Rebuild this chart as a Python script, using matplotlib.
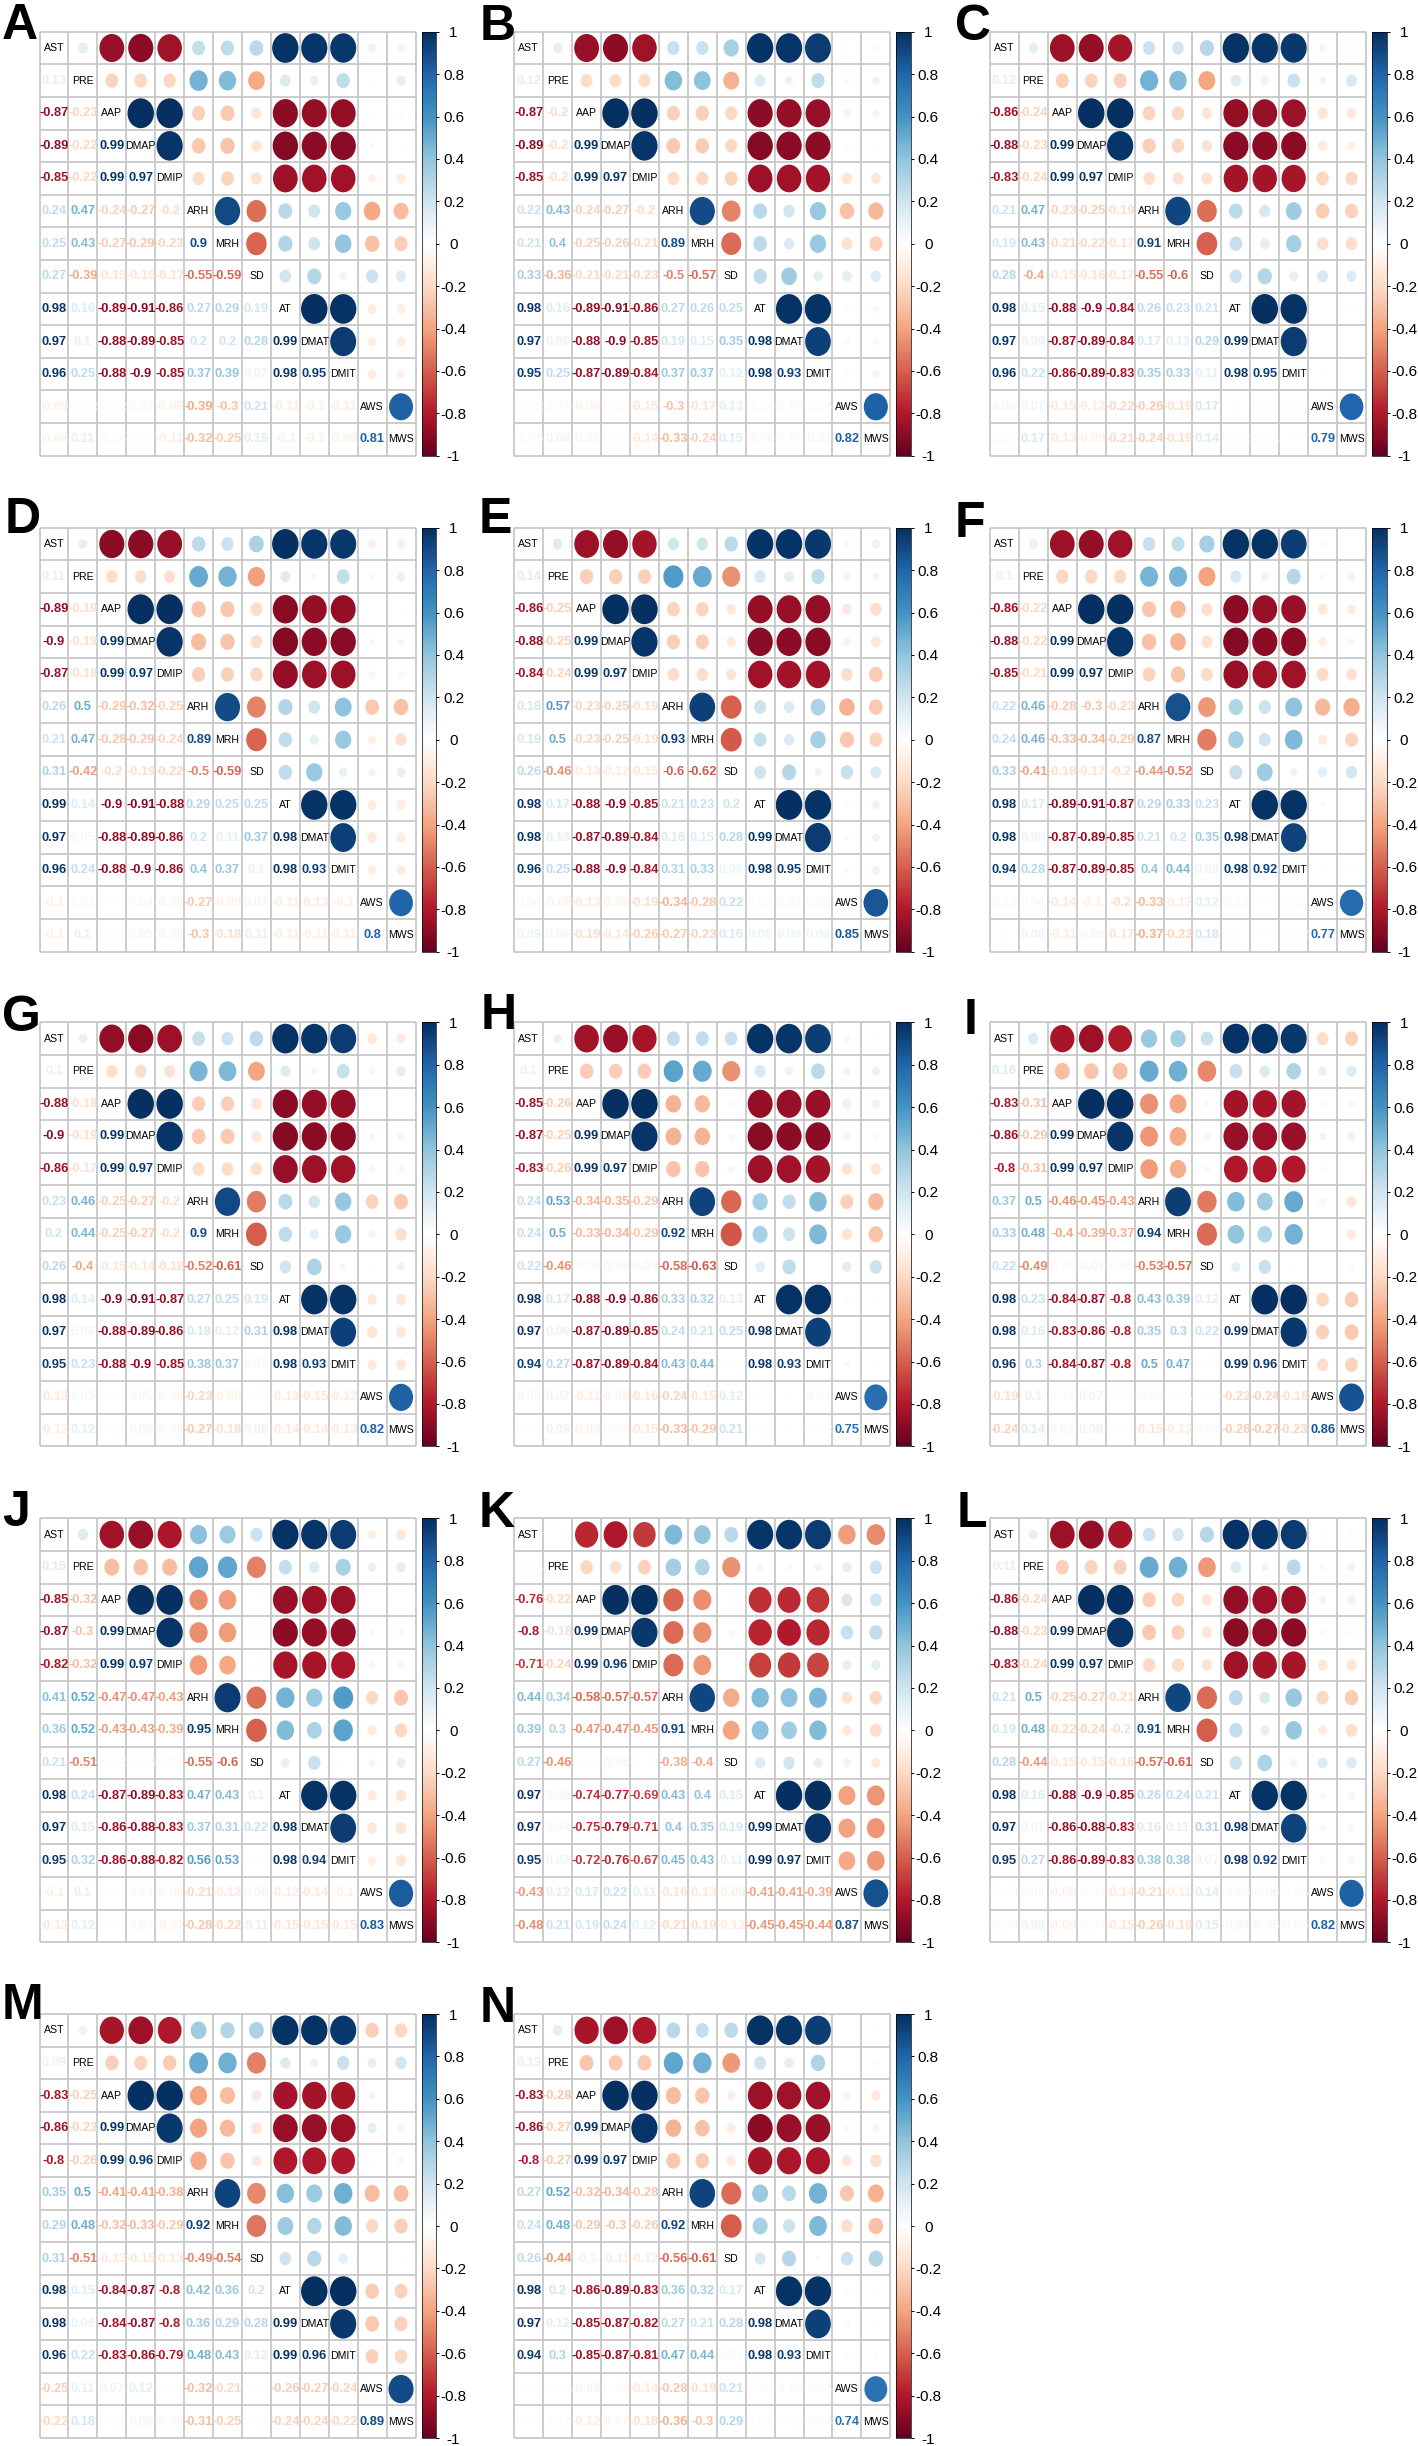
"""plot.py - grid of correlation matrices (corrplot style), saved as out.png."""

import matplotlib
matplotlib.use("Agg")  # no display
import matplotlib.pyplot as plt
from matplotlib.cm import ScalarMappable
from matplotlib.colors import LinearSegmentedColormap, Normalize
from matplotlib.patches import Ellipse

plt.rcParams["font.family"] = ["Liberation Sans", "DejaVu Sans"]

variables = ["AST", "PRE", "AAP", "DMAP", "DMIP", "ARH", "MRH", "SD",
             "AT", "DMAT", "DMIT", "AWS", "MWS"]
panel_names = list("ABCDEFGHIJKLMN")
colorbar_ticks = [1, 0.8, 0.6, 0.4, 0.2, 0, -0.2, -0.4, -0.6, -0.8, -1]

# lower triangles, row by row, starting at PRE
panel_a = [
    [0.13],
    [-0.87, -0.23],
    [-0.89, -0.22, 0.99],
    [-0.85, -0.22, 0.99, 0.97],
    [0.24, 0.47, -0.24, -0.27, -0.2],
    [0.25, 0.43, -0.27, -0.29, -0.23, 0.9],
    [0.27, -0.39, -0.15, -0.15, -0.17, -0.55, -0.59],
    [0.98, 0.16, -0.89, -0.91, -0.86, 0.27, 0.29, 0.19],
    [0.97, 0.1, -0.88, -0.89, -0.85, 0.2, 0.2, 0.28, 0.99],
    [0.96, 0.25, -0.88, -0.9, -0.85, 0.37, 0.39, 0.07, 0.98, 0.95],
    [-0.09, -0.02, -0.02, 0.03, -0.09, -0.39, -0.3, 0.21, -0.11, -0.1, -0.11],
    [-0.08, 0.11, -0.04, 0.01, -0.11, -0.32, -0.25, 0.15, -0.1, -0.1, -0.09, 0.81],
]
panel_b = [
    [0.12],
    [-0.87, -0.2],
    [-0.89, -0.2, 0.99],
    [-0.85, -0.2, 0.99, 0.97],
    [0.22, 0.43, -0.24, -0.27, -0.2],
    [0.21, 0.4, -0.25, -0.26, -0.21, 0.89],
    [0.33, -0.36, -0.21, -0.21, -0.23, -0.5, -0.57],
    [0.98, 0.16, -0.89, -0.91, -0.86, 0.27, 0.26, 0.25],
    [0.97, 0.09, -0.88, -0.9, -0.85, 0.19, 0.15, 0.35, 0.98],
    [0.95, 0.25, -0.87, -0.89, -0.84, 0.37, 0.37, 0.12, 0.98, 0.93],
    [-0.02, 0.03, -0.08, -0.03, -0.15, -0.3, -0.17, 0.13, -0.04, -0.05, -0.04],
    [-0.05, 0.08, -0.07, -0.01, -0.14, -0.33, -0.24, 0.15, -0.06, -0.05, -0.07, 0.82],
]
panel_c = [
    [0.12],
    [-0.86, -0.24],
    [-0.88, -0.23, 0.99],
    [-0.83, -0.24, 0.99, 0.97],
    [0.21, 0.47, -0.23, -0.25, -0.19],
    [0.19, 0.43, -0.21, -0.22, -0.17, 0.91],
    [0.28, -0.4, -0.15, -0.16, -0.17, -0.55, -0.6],
    [0.98, 0.15, -0.88, -0.9, -0.84, 0.26, 0.23, 0.21],
    [0.97, 0.09, -0.87, -0.89, -0.84, 0.17, 0.13, 0.29, 0.99],
    [0.96, 0.22, -0.86, -0.89, -0.83, 0.35, 0.33, 0.11, 0.98, 0.95],
    [0.06, 0.07, -0.15, -0.12, -0.22, -0.26, -0.19, 0.17, 0, 0.01, 0.01],
    [0.02, 0.17, -0.13, -0.09, -0.21, -0.24, -0.19, 0.14, -0.02, -0.01, 0, 0.79],
]
panel_d = [
    [0.11],
    [-0.89, -0.19],
    [-0.9, -0.19, 0.99],
    [-0.87, -0.18, 0.99, 0.97],
    [0.26, 0.5, -0.29, -0.32, -0.25],
    [0.21, 0.47, -0.28, -0.29, -0.24, 0.89],
    [0.31, -0.42, -0.2, -0.19, -0.22, -0.5, -0.59],
    [0.99, 0.14, -0.9, -0.91, -0.88, 0.29, 0.25, 0.25],
    [0.97, 0.05, -0.88, -0.89, -0.86, 0.2, 0.11, 0.37, 0.98],
    [0.96, 0.24, -0.88, -0.9, -0.86, 0.4, 0.37, 0.1, 0.98, 0.93],
    [-0.1, 0.03, 0, 0.04, -0.06, -0.27, -0.09, 0.07, -0.11, -0.13, -0.1],
    [-0.1, 0.1, 0.01, 0.05, -0.06, -0.3, -0.18, 0.11, -0.11, -0.11, -0.11, 0.8],
]
panel_e = [
    [0.14],
    [-0.86, -0.25],
    [-0.88, -0.25, 0.99],
    [-0.84, -0.24, 0.99, 0.97],
    [0.18, 0.57, -0.23, -0.25, -0.19],
    [0.19, 0.5, -0.23, -0.25, -0.19, 0.93],
    [0.26, -0.46, -0.13, -0.12, -0.15, -0.6, -0.62],
    [0.98, 0.17, -0.88, -0.9, -0.85, 0.21, 0.23, 0.2],
    [0.98, 0.13, -0.87, -0.89, -0.84, 0.16, 0.15, 0.28, 0.99],
    [0.96, 0.25, -0.88, -0.9, -0.84, 0.31, 0.33, 0.08, 0.98, 0.95],
    [0.04, -0.08, -0.13, -0.08, -0.19, -0.34, -0.28, 0.22, 0.03, 0.03, 0.03],
    [0.09, 0.06, -0.19, -0.14, -0.26, -0.27, -0.23, 0.16, 0.08, 0.08, 0.08, 0.85],
]
panel_f = [
    [0.1],
    [-0.86, -0.22],
    [-0.88, -0.22, 0.99],
    [-0.85, -0.21, 0.99, 0.97],
    [0.22, 0.46, -0.28, -0.3, -0.23],
    [0.24, 0.46, -0.33, -0.34, -0.29, 0.87],
    [0.33, -0.41, -0.18, -0.17, -0.2, -0.44, -0.52],
    [0.98, 0.17, -0.89, -0.91, -0.87, 0.29, 0.33, 0.23],
    [0.98, 0.08, -0.87, -0.89, -0.85, 0.21, 0.2, 0.35, 0.98],
    [0.94, 0.28, -0.87, -0.89, -0.85, 0.4, 0.44, 0.08, 0.98, 0.92],
    [0.03, 0.04, -0.14, -0.1, -0.2, -0.33, -0.12, 0.12, 0.03, 0, 0.02],
    [0, 0.08, -0.11, -0.06, -0.17, -0.37, -0.23, 0.18, 0, 0, -0.02, 0.77],
]
panel_g = [
    [0.1],
    [-0.88, -0.18],
    [-0.9, -0.19, 0.99],
    [-0.86, -0.17, 0.99, 0.97],
    [0.23, 0.46, -0.25, -0.27, -0.2],
    [0.2, 0.44, -0.25, -0.27, -0.2, 0.9],
    [0.26, -0.4, -0.15, -0.14, -0.18, -0.52, -0.61],
    [0.98, 0.14, -0.9, -0.91, -0.87, 0.27, 0.25, 0.19],
    [0.97, 0.06, -0.88, -0.89, -0.86, 0.18, 0.12, 0.31, 0.98],
    [0.95, 0.23, -0.88, -0.9, -0.85, 0.38, 0.37, 0.05, 0.98, 0.93],
    [-0.13, 0.05, 0, 0.05, -0.06, -0.23, -0.08, 0.02, -0.13, -0.15, -0.12],
    [-0.12, 0.12, 0.01, 0.06, -0.06, -0.27, -0.18, 0.08, -0.14, -0.14, -0.13, 0.82],
]
panel_h = [
    [0.1],
    [-0.85, -0.26],
    [-0.87, -0.25, 0.99],
    [-0.83, -0.26, 0.99, 0.97],
    [0.24, 0.53, -0.34, -0.35, -0.29],
    [0.24, 0.5, -0.33, -0.34, -0.29, 0.92],
    [0.22, -0.46, -0.05, -0.06, -0.07, -0.58, -0.63],
    [0.98, 0.17, -0.88, -0.9, -0.86, 0.33, 0.32, 0.13],
    [0.97, 0.09, -0.87, -0.89, -0.85, 0.24, 0.21, 0.25, 0.98],
    [0.94, 0.27, -0.87, -0.89, -0.84, 0.43, 0.44, -0.01, 0.98, 0.93],
    [0.05, 0.07, -0.11, -0.08, -0.16, -0.24, -0.15, 0.12, 0.02, 0, 0.04],
    [0.01, 0.09, -0.09, -0.05, -0.15, -0.33, -0.29, 0.21, 0.01, 0, -0.02, 0.75],
]
panel_i = [
    [0.16],
    [-0.83, -0.31],
    [-0.86, -0.29, 0.99],
    [-0.8, -0.31, 0.99, 0.97],
    [0.37, 0.5, -0.46, -0.45, -0.43],
    [0.33, 0.48, -0.4, -0.39, -0.37, 0.94],
    [0.22, -0.49, -0.04, -0.07, -0.05, -0.53, -0.57],
    [0.98, 0.23, -0.84, -0.87, -0.8, 0.43, 0.39, 0.12],
    [0.98, 0.16, -0.83, -0.86, -0.8, 0.35, 0.3, 0.22, 0.99],
    [0.96, 0.3, -0.84, -0.87, -0.8, 0.5, 0.47, 0.02, 0.99, 0.96],
    [-0.19, 0.1, 0.03, 0.07, -0.03, -0.06, -0.01, 0, -0.22, -0.24, -0.18],
    [-0.24, 0.14, 0.05, 0.09, -0.01, -0.15, -0.12, 0.03, -0.26, -0.27, -0.23, 0.86],
]
panel_j = [
    [0.15],
    [-0.85, -0.32],
    [-0.87, -0.3, 0.99],
    [-0.82, -0.32, 0.99, 0.97],
    [0.41, 0.52, -0.47, -0.47, -0.43],
    [0.36, 0.52, -0.43, -0.43, -0.39, 0.95],
    [0.21, -0.51, -0.02, -0.03, -0.03, -0.55, -0.6],
    [0.98, 0.24, -0.87, -0.89, -0.83, 0.47, 0.43, 0.1],
    [0.97, 0.15, -0.86, -0.88, -0.83, 0.37, 0.31, 0.22, 0.98],
    [0.95, 0.32, -0.86, -0.88, -0.82, 0.56, 0.53, -0.02, 0.98, 0.94],
    [-0.1, 0.1, 0, 0.04, -0.06, -0.21, -0.12, 0.06, -0.12, -0.14, -0.1],
    [-0.13, 0.12, 0, 0.04, -0.07, -0.28, -0.22, 0.11, -0.15, -0.15, -0.15, 0.83],
]
panel_k = [
    [-0.01],
    [-0.76, -0.22],
    [-0.8, -0.18, 0.99],
    [-0.71, -0.24, 0.99, 0.96],
    [0.44, 0.34, -0.58, -0.57, -0.57],
    [0.39, 0.3, -0.47, -0.47, -0.45, 0.91],
    [0.27, -0.46, -0.02, -0.06, -0.01, -0.38, -0.4],
    [0.97, 0.05, -0.74, -0.77, -0.69, 0.43, 0.4, 0.15],
    [0.97, 0.04, -0.75, -0.79, -0.71, 0.4, 0.35, 0.19, 0.99],
    [0.95, 0.07, -0.72, -0.76, -0.67, 0.45, 0.43, 0.11, 0.99, 0.97],
    [-0.43, 0.12, 0.17, 0.22, 0.11, -0.16, -0.13, -0.09, -0.41, -0.41, -0.39],
    [-0.48, 0.21, 0.19, 0.24, 0.12, -0.21, -0.19, -0.12, -0.45, -0.45, -0.44, 0.87],
]
panel_l = [
    [0.11],
    [-0.86, -0.24],
    [-0.88, -0.23, 0.99],
    [-0.83, -0.24, 0.99, 0.97],
    [0.21, 0.5, -0.25, -0.27, -0.21],
    [0.19, 0.48, -0.22, -0.24, -0.2, 0.91],
    [0.28, -0.44, -0.15, -0.15, -0.16, -0.57, -0.61],
    [0.98, 0.16, -0.88, -0.9, -0.85, 0.26, 0.24, 0.21],
    [0.97, 0.07, -0.86, -0.88, -0.83, 0.16, 0.11, 0.31, 0.98],
    [0.95, 0.27, -0.86, -0.89, -0.83, 0.38, 0.38, 0.07, 0.98, 0.92],
    [-0.03, 0.04, -0.08, -0.04, -0.14, -0.21, -0.11, 0.14, -0.06, -0.06, -0.04],
    [-0.04, 0.08, -0.09, -0.04, -0.15, -0.26, -0.19, 0.15, -0.07, -0.06, -0.06, 0.82],
]
panel_m = [
    [0.09],
    [-0.83, -0.25],
    [-0.86, -0.23, 0.99],
    [-0.8, -0.26, 0.99, 0.96],
    [0.35, 0.5, -0.41, -0.41, -0.38],
    [0.29, 0.48, -0.32, -0.33, -0.29, 0.92],
    [0.31, -0.51, -0.13, -0.15, -0.13, -0.49, -0.54],
    [0.98, 0.15, -0.84, -0.87, -0.8, 0.42, 0.36, 0.2],
    [0.98, 0.09, -0.84, -0.87, -0.8, 0.36, 0.29, 0.28, 0.99],
    [0.96, 0.22, -0.83, -0.86, -0.79, 0.48, 0.43, 0.12, 0.99, 0.96],
    [-0.25, 0.11, 0.07, 0.12, 0.01, -0.32, -0.21, 0, -0.26, -0.27, -0.24],
    [-0.22, 0.18, 0.01, 0.06, -0.06, -0.31, -0.25, 0.01, -0.24, -0.24, -0.22, 0.89],
]
panel_n = [
    [0.13],
    [-0.83, -0.28],
    [-0.86, -0.27, 0.99],
    [-0.8, -0.27, 0.99, 0.97],
    [0.27, 0.52, -0.32, -0.34, -0.28],
    [0.24, 0.48, -0.29, -0.3, -0.26, 0.92],
    [0.26, -0.44, -0.1, -0.11, -0.12, -0.56, -0.61],
    [0.98, 0.2, -0.86, -0.89, -0.83, 0.36, 0.32, 0.17],
    [0.97, 0.12, -0.85, -0.87, -0.82, 0.27, 0.21, 0.28, 0.98],
    [0.94, 0.3, -0.85, -0.87, -0.81, 0.47, 0.44, 0.03, 0.98, 0.93],
    [0, -0.01, -0.08, -0.04, -0.14, -0.28, -0.19, 0.21, -0.04, -0.05, -0.04],
    [0.01, 0.02, -0.12, -0.07, -0.18, -0.36, -0.3, 0.29, 0.02, 0.01, -0.04, 0.74],
]
panels = [panel_a, panel_b, panel_c, panel_d, panel_e, panel_f, panel_g,
          panel_h, panel_i, panel_j, panel_k, panel_l, panel_m, panel_n]

# layout in reference pixels
FIG_W, FIG_H = 1418, 2446
GRID_W, GRID_H = 376, 424
column_left = [39.5, 514.3, 990]
row_top = [31.7, 527.7, 1022.3, 1518.3, 2014]
letter_pos = [(2, 39), (480, 40), (955, 40), (5, 533), (479, 533), (955, 537),
              (2, 1031), (481, 1029), (964, 1034), (2, 1526), (479, 1527),
              (957, 1527), (2, 2019), (480, 2022)]

GRID_COLOR = "#C4C4C4"
cmap = LinearSegmentedColormap.from_list(
    "corr_rdbu",
    ["#67001F", "#B2182B", "#D6604D", "#F4A582", "#FDDBC7", "#FFFFFF",
     "#D1E5F0", "#92C5DE", "#4393C3", "#2166AC", "#053061"],
    N=200,
)
norm = Normalize(-1, 1)


def px_axes(fig, left, top, width, height):
    """Add axes given in top-left based pixel coordinates."""
    return fig.add_axes([left / FIG_W, 1 - (top + height) / FIG_H,
                         width / FIG_W, height / FIG_H])


def draw_matrix(ax, lower):
    n = len(variables)
    ax.set_xlim(0, n)
    ax.set_ylim(n, 0)
    ax.set_xticks([])
    ax.set_yticks([])
    for spine in ax.spines.values():
        spine.set_visible(False)
    ax.vlines(range(n + 1), 0, n, color=GRID_COLOR, lw=1.2, clip_on=False)
    ax.hlines(range(n + 1), 0, n, color=GRID_COLOR, lw=1.2, clip_on=False)

    for i in range(n):
        ax.text(i + 0.5, i + 0.5, variables[i], ha="center", va="center",
                fontsize=7.6, color="black")
    for row, values in enumerate(lower, start=1):
        for col, value in enumerate(values):
            color = cmap(norm(value))
            ax.text(col + 0.5, row + 0.5, f"{value:g}", ha="center", va="center",
                    fontsize=9.3, fontweight="bold", color=color)
            # size goes with the square root, so that area follows |r|
            size = 0.92 * abs(value) ** 0.5
            ax.add_patch(Ellipse((row + 0.5, col + 0.5), size, size,
                                 facecolor=color, edgecolor="none"))


def draw_colorbar(fig, cax):
    cbar = fig.colorbar(ScalarMappable(norm=norm, cmap=cmap), cax=cax,
                        ticks=colorbar_ticks)
    cbar.outline.set_linewidth(0.5)
    cbar.ax.set_yticklabels([f"{t:g}" for t in colorbar_ticks])
    cbar.ax.tick_params(length=2.2, width=0.7, pad=10, labelsize=11)
    for label in cbar.ax.get_yticklabels():
        label.set_ha("center")


fig = plt.figure(figsize=(FIG_W / 100, FIG_H / 100), dpi=100)

for idx, (name, lower) in enumerate(zip(panel_names, panels)):
    left = column_left[idx % 3]
    top = row_top[idx // 3]
    draw_matrix(px_axes(fig, left, top, GRID_W, GRID_H), lower)
    draw_colorbar(fig, px_axes(fig, left + GRID_W + 6, top, 15, GRID_H))
    x, y = letter_pos[idx]
    fig.text(x / FIG_W, 1 - y / FIG_H, name, ha="left", va="baseline",
             fontsize=36, fontweight="bold", color="black")

fig.savefig("out.png", dpi=100)
